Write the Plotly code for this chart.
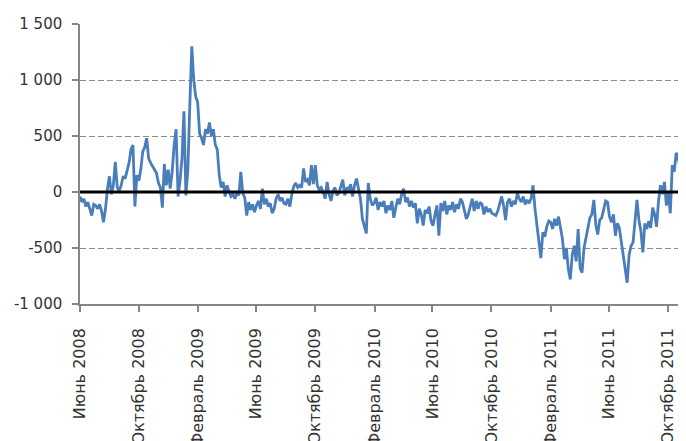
import pandas as pd
import plotly.graph_objects as go

# values, one sample every ~4 days from June 2008 to early Nov 2011
jun_sep_2008 = [-40, -90, -60, -130, -90, -160, -210, -110, -120, -150,
                -110, -170, -270, -150, 30, 140, -20, 60, 270, 40,
                10, 60, 140, 120, 200, 260, 380, 420, -130, 150]
oct_jan_2009 = [100, 200, 360, 400, 480, 300, 260, 230, 210, 170,
                80, 40, -140, 250, 60, 200, 30, 180, 420, 560,
                -40, 100, 300, 720, -30, 200, 780, 1300, 1000, 850]
feb_may_2009 = [800, 520, 480, 420, 560, 520, 620, 500, 560, 420,
                380, 150, 40, 90, -40, 60, 0, -40, -20, -60,
                -10, -30, 180, -10, -50, -210, -90, -160, -110, -180]
jun_sep_2009 = [-120, -80, -150, 30, -110, -60, -130, -100, -190, -150,
                -60, -20, -80, -50, -100, -110, -60, -130, -20, 50,
                80, 40, 60, 40, 210, 90, 110, 60, 240, 70]
oct_jan_2010 = [240, 60, 20, 40, 0, -60, 90, -20, -80, 10,
                40, -30, -10, 50, 110, -30, 40, 20, 70, -40,
                60, 120, 10, -60, -240, -300, -370, 80, -60, -120]
feb_may_2010 = [-100, -50, -160, -90, -130, -80, -190, -120, -160, -80,
                -230, -140, -60, -110, -20, 30, -90, -50, -130, -80,
                -140, -100, -280, -150, -200, -300, -160, -190, -130, -260]
jun_sep_2010 = [-300, -200, -120, -390, -100, -170, -80, -200, -120, -160,
                -90, -180, -110, -150, -60, -90, -180, -240, -200, -130,
                -60, -170, -80, -150, -90, -110, -200, -130, -180, -150]
oct_jan_2011 = [-190, -200, -210, -170, -100, -40, -120, -250, -90, -60,
                -130, -80, -110, -10, -60, -90, -40, -110, -70, -100,
                -60, 60, -150, -280, -450, -590, -360, -400, -310, -260]
feb_may_2011 = [-270, -330, -240, -300, -220, -330, -420, -600, -500, -690,
                -780, -560, -480, -620, -330, -680, -720, -500, -420, -330,
                -230, -200, -70, -290, -380, -250, -230, -160, -80, -90]
jun_sep_2011 = [-220, -270, -200, -390, -280, -320, -450, -580, -700, -810,
                -560, -480, -450, -260, -70, -250, -350, -540, -280, -330,
                -260, -320, -140, -200, -310, -80, 60, -20, 90, -120]
oct_nov_2011 = [0, -190, 240, 180, 350, 300, 220, 140, 60, -70]

values = (jun_sep_2008 + oct_jan_2009 + feb_may_2009 + jun_sep_2009 + oct_jan_2010
          + feb_may_2010 + jun_sep_2010 + oct_jan_2011 + feb_may_2011 + jun_sep_2011
          + oct_nov_2011)
dates = pd.date_range("2008-06-01", "2011-11-08", periods=len(values))

tick_dates = ["2008-06-01", "2008-10-01", "2009-02-01", "2009-06-01", "2009-10-01",
              "2010-02-01", "2010-06-01", "2010-10-01", "2011-02-01", "2011-06-01",
              "2011-10-01"]
tick_labels = ["Июнь 2008", "Октябрь 2008", "Февраль 2009", "Июнь 2009", "Октябрь 2009",
               "Февраль 2010", "Июнь 2010", "Октябрь 2010", "Февраль 2011", "Июнь 2011",
               "Октябрь 2011"]
y_ticks = [-1000, -500, 0, 500, 1000, 1500]
y_labels = ["-1 000", "-500", "0", "500", "1 000", "1 500"]

fig = go.Figure()
fig.add_trace(go.Scatter(x=dates, y=values, mode="lines",
                         line=dict(color="#4a7ebb", width=2.8), showlegend=False))

# black zero line drawn over the series
fig.add_shape(type="line", xref="paper", yref="y", x0=0, x1=1, y0=0, y1=0,
              line=dict(color="black", width=3), layer="above")

# page body has an 8px margin, so the figure is a bit smaller than the window
fig.update_layout(
    width=678, height=433,
    margin=dict(l=72, r=0, t=16, b=137),
    plot_bgcolor="white", paper_bgcolor="white",
    font=dict(family="Verdana, DejaVu Sans", size=15, color="#333333"),
)
fig.update_xaxes(
    range=["2008-06-01", "2011-11-08"],
    tickvals=tick_dates, ticktext=tick_labels, tickangle=-90,
    tickfont=dict(size=16),
    ticks="outside", ticklen=6, tickcolor="#868686", tickwidth=1.5,
    ticklabelstandoff=10,
    showline=True, linecolor="#868686", linewidth=1.5,
    showgrid=False, automargin=False,
)
fig.update_yaxes(
    range=[-1000, 1500],
    tickvals=y_ticks, ticktext=y_labels,
    ticks="outside", ticklen=6, tickcolor="#868686", tickwidth=1.5,
    ticklabelstandoff=7,
    showline=True, linecolor="#868686", linewidth=1.5,
    showgrid=True, gridcolor="#8c8c8c", gridwidth=1.2, griddash="6px,3px",
    zeroline=False, automargin=False,
)

fig.write_html("out.html")
